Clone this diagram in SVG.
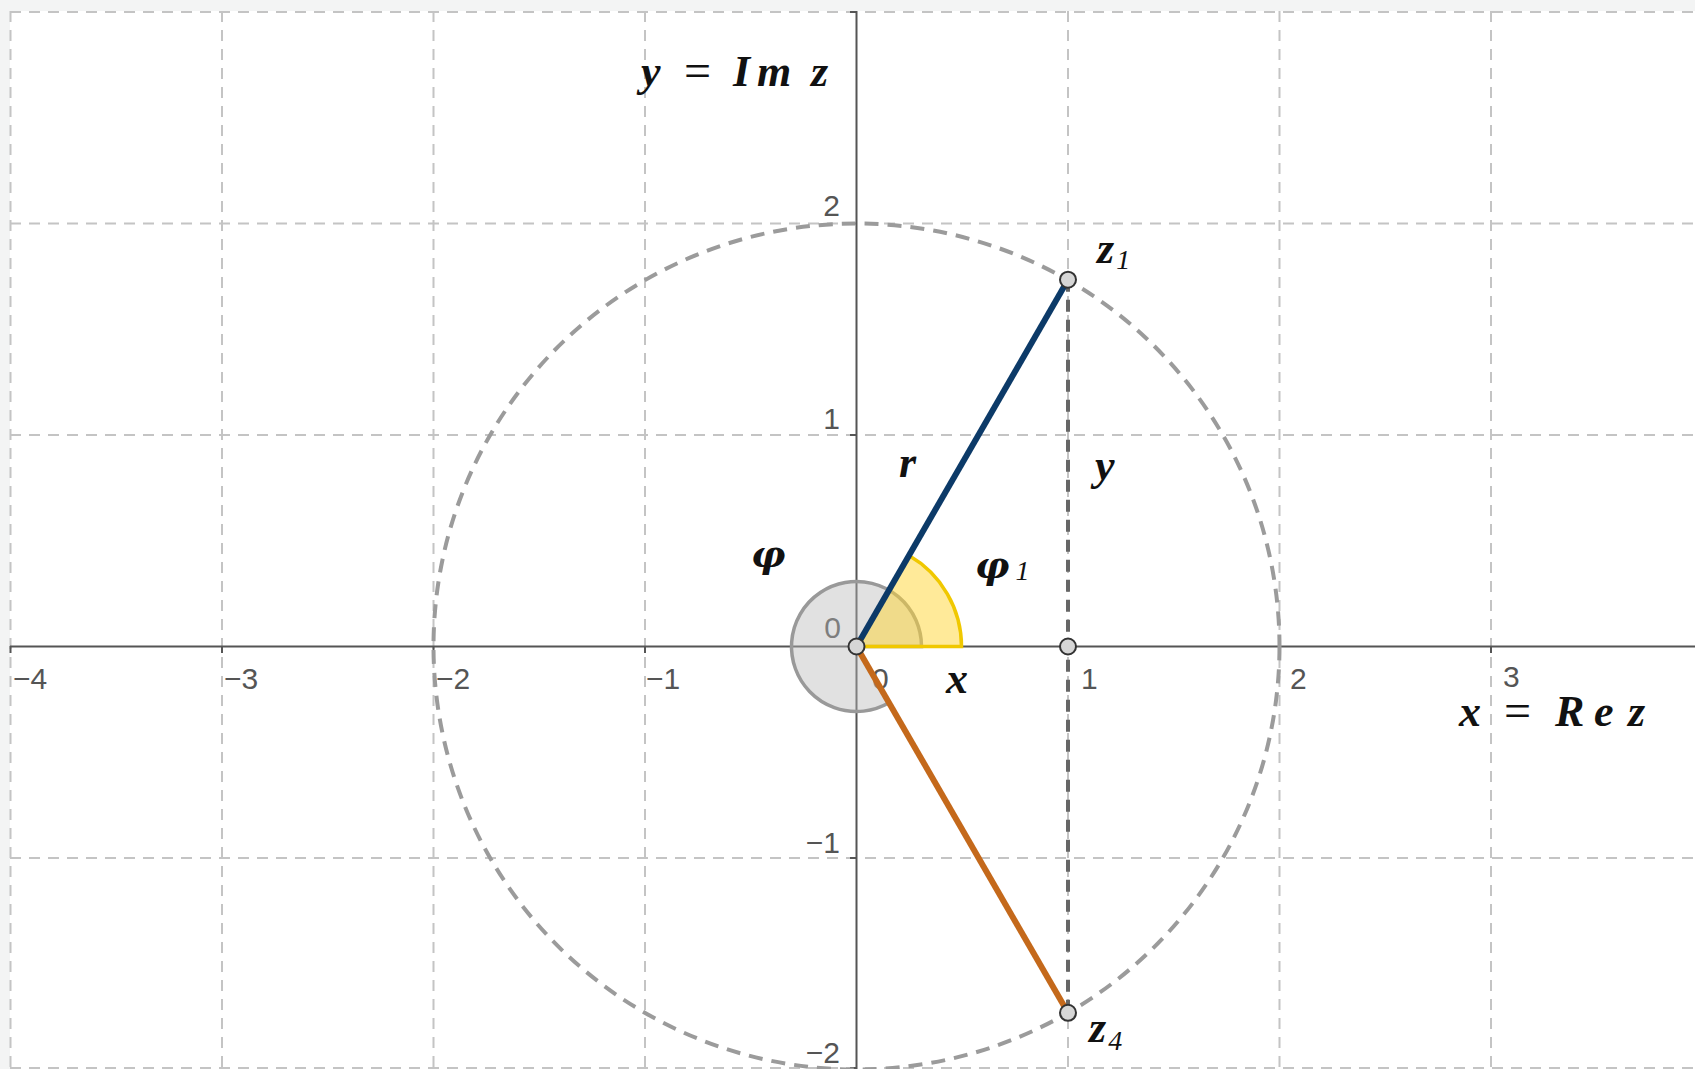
<svg xmlns="http://www.w3.org/2000/svg" width="1695" height="1069" viewBox="0 0 1695 1069">
<style>
.grid{stroke:#c4c4c4;stroke-width:2;stroke-dasharray:11 8;fill:none}
.axis{stroke:#555;stroke-width:2;fill:none}
.tick{font-family:"Liberation Sans",Arial,sans-serif;font-size:30px;fill:#555}
.math{font-family:"Liberation Serif","Times New Roman",serif;font-style:italic;font-weight:bold;font-size:44px;fill:#111}
.eq{font-style:normal;font-weight:normal;font-size:48px}
.sub{font-family:"Liberation Serif","Times New Roman",serif;font-style:italic;font-weight:normal;font-size:28px}
.phi{font-family:"DejaVu Serif",serif;font-style:italic;font-weight:bold;font-size:38px;fill:#111}
.pt{fill:#d6d6d6;stroke:#333;stroke-width:2}
</style>
<rect x="0" y="0" width="1695" height="1069" fill="#f3f4f4"/>
<rect x="10" y="11" width="1685" height="1058" fill="#fff"/>
<g id="grid">
<line class="grid" x1="10.5" y1="11" x2="10.5" y2="1069"/>
<line class="grid" x1="222" y1="11" x2="222" y2="1069"/>
<line class="grid" x1="433.5" y1="11" x2="433.5" y2="1069"/>
<line class="grid" x1="645" y1="11" x2="645" y2="1069"/>
<line class="grid" x1="1068" y1="11" x2="1068" y2="1069"/>
<line class="grid" x1="1279.5" y1="11" x2="1279.5" y2="1069"/>
<line class="grid" x1="1491" y1="11" x2="1491" y2="1069"/>
<line class="grid" x1="10" y1="12" x2="1695" y2="12"/>
<line class="grid" x1="10" y1="223.5" x2="1695" y2="223.5"/>
<line class="grid" x1="10" y1="435" x2="1695" y2="435"/>
<line class="grid" x1="10" y1="858" x2="1695" y2="858"/>
<line class="grid" x1="10" y1="1068" x2="1695" y2="1068"/>
</g>
<g id="axes">
<line class="axis" x1="10" y1="646.5" x2="1695" y2="646.5"/>
<line class="axis" x1="856.5" y1="11" x2="856.5" y2="1069"/>
<path class="axis" d="M10.5 646v7M222 646v7M433.5 646v7M645 646v7M1068 646v7M1279.5 646v7M1491 646v7M850 223.5h7M850 435h7M850 858h7M850 1068h7M850 12h7"/>
</g>
<g id="tick-labels">
<text class="tick" x="13" y="689">−4</text>
<text class="tick" x="224" y="689">−3</text>
<text class="tick" x="436" y="689">−2</text>
<text class="tick" x="646" y="689">−1</text>
<text class="tick" x="872" y="689">0</text>
<text class="tick" x="1081" y="689">1</text>
<text class="tick" x="1290" y="689">2</text>
<text class="tick" x="1503" y="687">3</text>
<text class="tick" x="840" y="216" text-anchor="end">2</text>
<text class="tick" x="840" y="429" text-anchor="end">1</text>
<text class="tick" x="841" y="638" text-anchor="end">0</text>
<text class="tick" x="840" y="853" text-anchor="end">−1</text>
<text class="tick" x="840" y="1063" text-anchor="end">−2</text>
</g>
<g id="circle">
<circle cx="856.5" cy="646.5" r="423" fill="none" stroke="#9b9b9b" stroke-width="4" stroke-dasharray="14 9"/>
</g>
<g id="angle-phi">
<path d="M856.5 646.5 L921.5 646.5 A65 65 0 1 0 889 702.8 Z" fill="#b8b8b8" fill-opacity="0.42" stroke="#999" stroke-width="3.5"/>
</g>
<g id="angle-phi1">
<path d="M856.5 646.5 L961.5 646.5 A105 105 0 0 0 909 555.6 Z" fill="#ffd633" fill-opacity="0.5" stroke="#f0c800" stroke-width="3.5"/>
</g>
<g id="connectors">
<line x1="1068" y1="279.7" x2="1068" y2="1012.8" stroke="#666" stroke-width="4" stroke-dasharray="12 8"/>
<line id="seg-r" x1="856.5" y1="646.5" x2="1068" y2="279.7" stroke="#0c3a68" stroke-width="6"/>
<line id="seg-z4" x1="856.5" y1="646.5" x2="1068" y2="1012.8" stroke="#c4691b" stroke-width="6"/>
</g>
<g id="point-O"><circle class="pt" cx="856.5" cy="646.5" r="8"/></g>
<g id="point-x1"><circle class="pt" cx="1068" cy="646.5" r="8"/></g>
<g id="point-z1"><circle class="pt" cx="1068" cy="279.7" r="8"/></g>
<g id="point-z4"><circle class="pt" cx="1068" cy="1012.8" r="8"/></g>
<g id="labels">
<text class="math" y="86"><tspan x="641">y</tspan><tspan class="eq" x="684" dy="1">=</tspan><tspan x="733" dy="-1">I</tspan><tspan x="757">m</tspan><tspan x="811">z</tspan></text>
<text class="math" y="726"><tspan x="1459">x</tspan><tspan class="eq" x="1504" dy="1">=</tspan><tspan x="1555" dy="-1">R</tspan><tspan x="1594">e</tspan><tspan x="1628">z</tspan></text>
<text class="math" x="1097" y="263">z<tspan class="sub" dx="2" dy="6">1</tspan></text>
<text class="math" x="1089" y="1042">z<tspan class="sub" dx="2" dy="8">4</tspan></text>
<text class="math" x="899" y="477">r</text>
<text class="math" x="1095" y="480">y</text>
<text class="phi" x="751" y="567">φ</text>
<text class="phi" x="975" y="578">φ<tspan class="sub" dx="6" dy="2">1</tspan></text>
<text class="math" x="946" y="693">x</text>
</g>
</svg>
